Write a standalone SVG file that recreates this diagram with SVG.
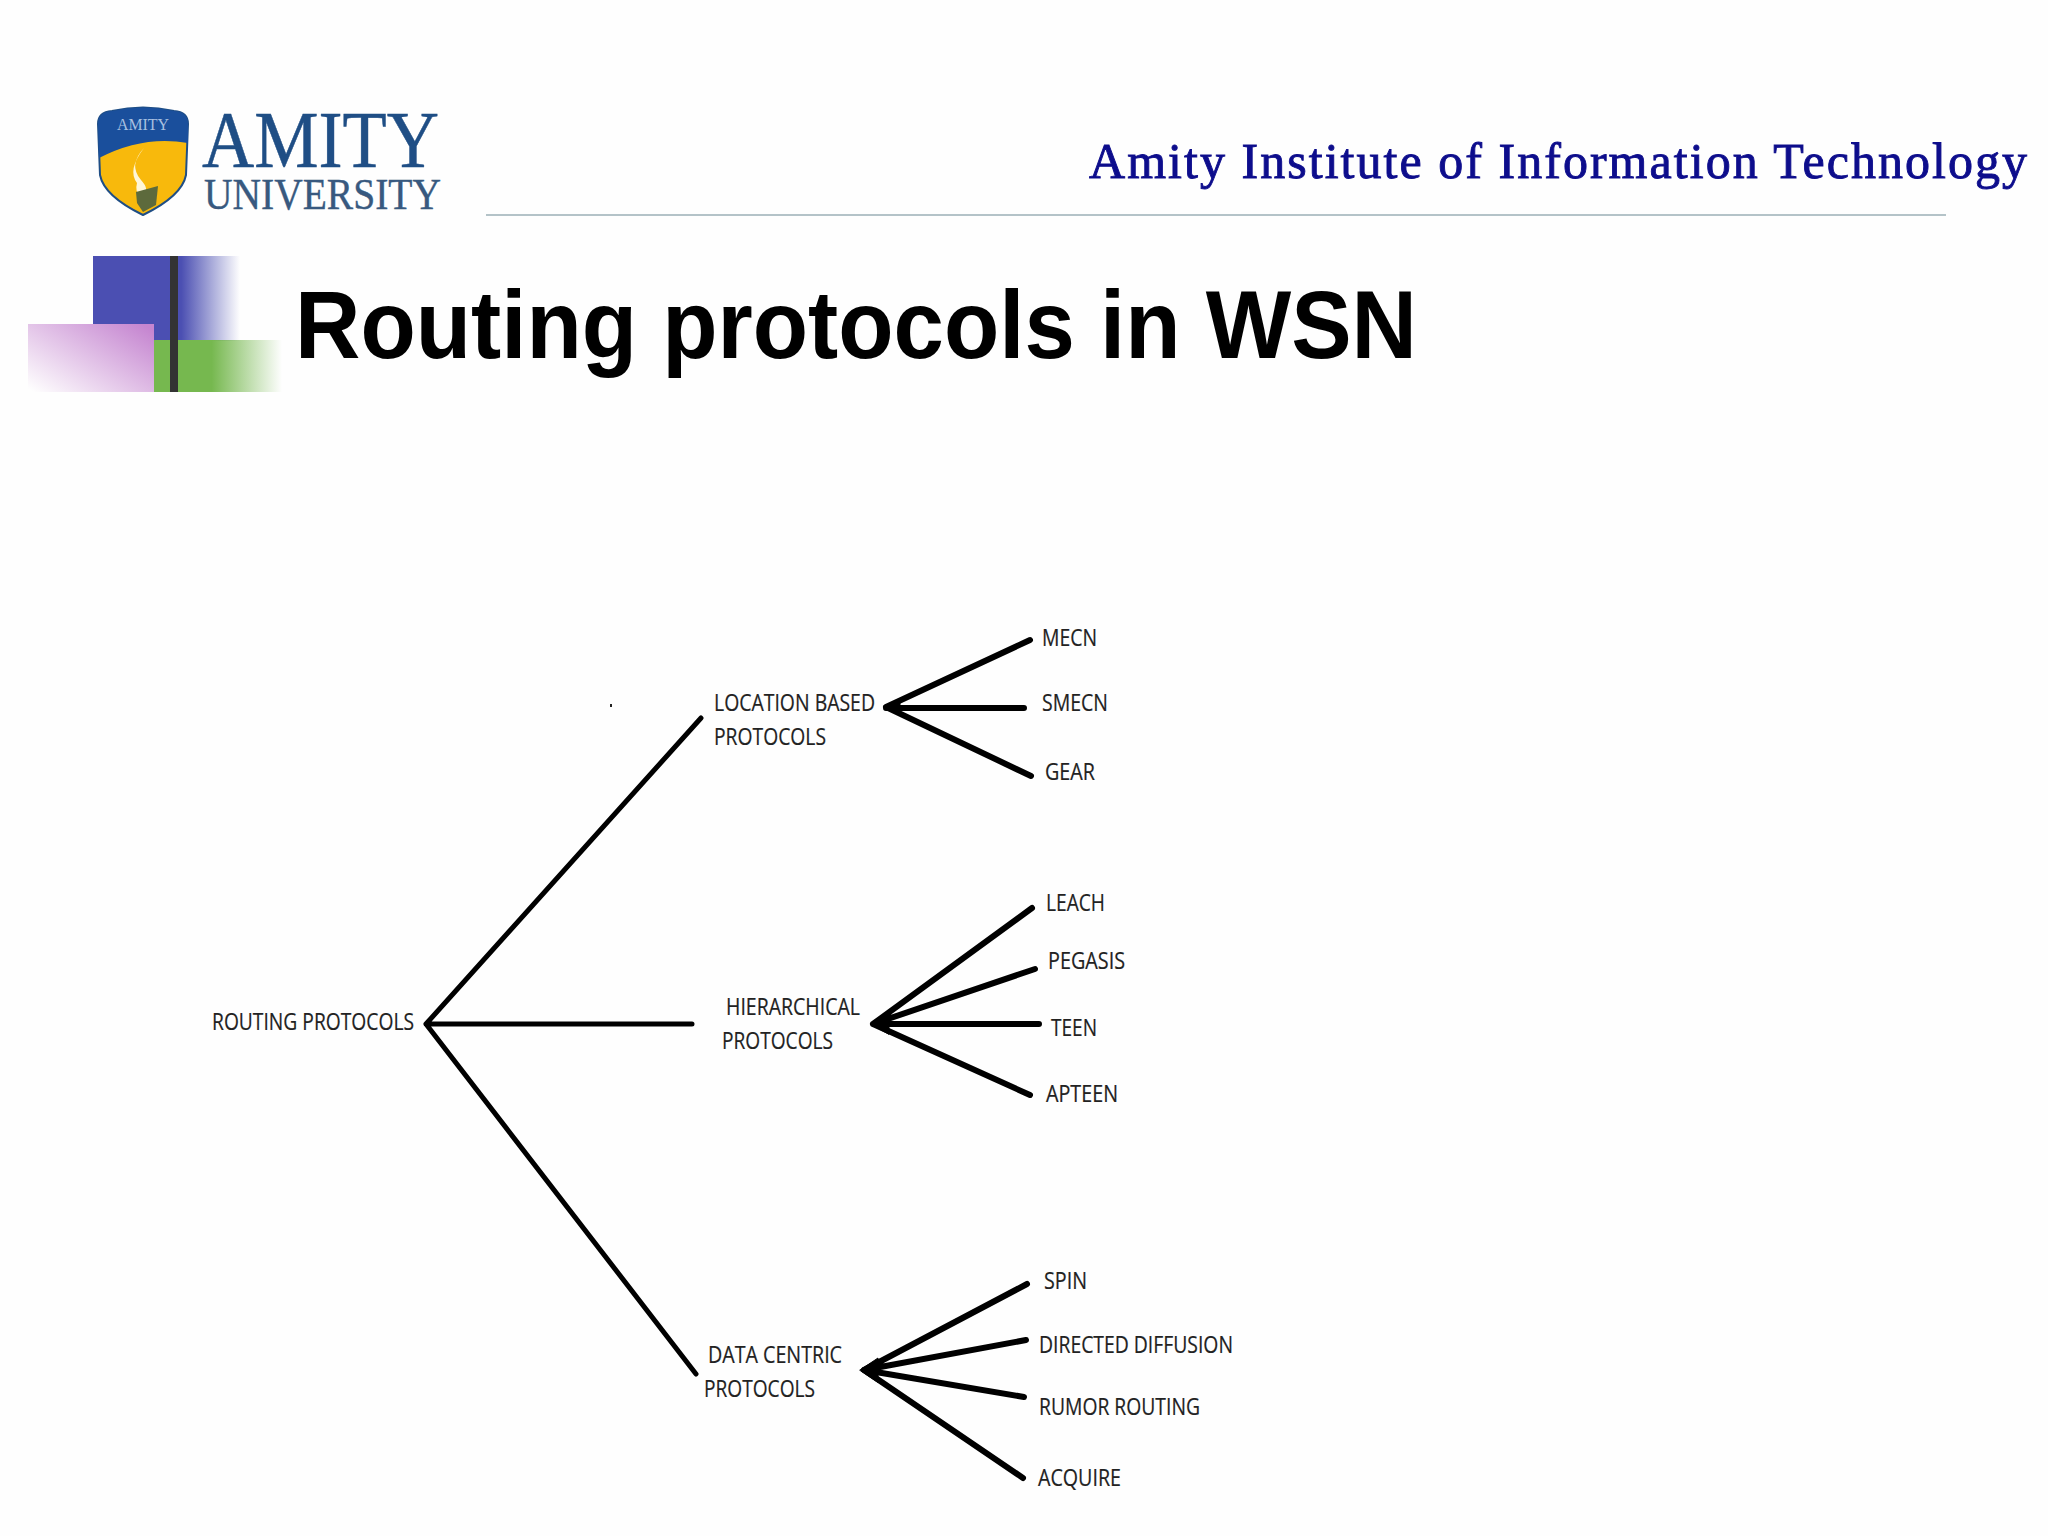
<svg xmlns="http://www.w3.org/2000/svg" width="2048" height="1536" viewBox="0 0 2048 1536">
<defs>
<style>
.l{font-family:"Open Sans","Noto Sans","Liberation Sans",sans-serif;font-size:24px;fill:#222;stroke:#222;stroke-width:0.2}
.c{stroke:#000;fill:none;stroke-linecap:round}
.r{stroke-width:5}
.h{stroke-width:6}
</style>
<linearGradient id="fb" x1="0" x2="1" y1="0" y2="0"><stop offset="0" stop-color="#4b4fb2"/><stop offset="0.6" stop-color="#4b4fb2"/><stop offset="1" stop-color="#4b4fb2" stop-opacity="0"/></linearGradient>
<linearGradient id="fg" x1="0" x2="1" y1="0" y2="0"><stop offset="0" stop-color="#76b84f"/><stop offset="0.45" stop-color="#76b84f"/><stop offset="1" stop-color="#76b84f" stop-opacity="0"/></linearGradient>
<linearGradient id="fp" x1="1" x2="0" y1="0.1" y2="0.95"><stop offset="0" stop-color="#c585d0"/><stop offset="1" stop-color="#fefefe"/></linearGradient>
</defs>
<rect width="2048" height="1536" fill="#fefefe"/>
<g id="logo">
<path d="M98 124Q98 112 112 111Q143 104 174 111Q188 112 188 124L186 175Q182 196 143 215Q104 196 100 175Z" fill="#f8b90c" stroke="#1f4e85" stroke-width="2"/>
<path d="M98 124Q98 112 112 111Q143 104 174 111Q188 112 188 124L188 143Q143 135 99 158Z" fill="#1a4f9c"/>
<path d="M144 148Q128 165 141 180Q150 190 143 193Q134 195 137 183Q127 170 144 148Z" fill="#fff6d8"/>
<path d="M136 192L158 186L156 205L143 212L137 203Z" fill="#5d6a3c"/>
<text x="117" y="130" font-family="Liberation Serif,serif" font-size="17" fill="#a8c0e0" textLength="52" lengthAdjust="spacingAndGlyphs">AMITY</text>
<text x="202" y="167" font-family="Liberation Serif,serif" font-size="80" fill="#1f4e85" stroke="#1f4e85" stroke-width="0.5" textLength="237" lengthAdjust="spacingAndGlyphs">AMITY</text>
<text x="204" y="209" font-family="Liberation Serif,serif" font-size="44" fill="#38597f" stroke="#38597f" stroke-width="0.4" textLength="237" lengthAdjust="spacingAndGlyphs">UNIVERSITY</text>
</g>
<text id="institute" x="1089" y="178" font-family="Liberation Serif,serif" font-size="50" fill="#0d0d8c" stroke="#0d0d8c" stroke-width="0.9" textLength="938" lengthAdjust="spacing">Amity Institute of Information Technology</text>
<rect id="rule" x="486" y="214" width="1460" height="2" fill="#b4c3c8"/>
<g id="bullet">
<rect x="93" y="256" width="147" height="85" fill="url(#fb)"/>
<rect x="154" y="340" width="128" height="52" fill="url(#fg)"/>
<rect x="28" y="324" width="126" height="68" fill="url(#fp)"/>
<rect x="170" y="256" width="8" height="136" fill="#333"/>
</g>
<text id="title" x="295" y="358" font-family="Liberation Sans,Arial,sans-serif" font-weight="bold" font-size="96" fill="#000" textLength="1122" lengthAdjust="spacingAndGlyphs">Routing protocols in WSN</text>
<g id="connectors" class="c">
<path class="r" d="M426 1024L701 718M426 1024H692M426 1024L696 1374"/>
<path class="h" d="M886 707L1030 640M886 708H1024M886 707L1031 776"/>
<path class="h" d="M873 1024L1032 908M873 1024L1035 969M873 1024H1039M873 1024L1030 1095"/>
<path class="h" d="M864 1370L1027 1284M864 1370L1026 1340M864 1370L1024 1397M864 1370L1023 1478"/>
<path stroke="#000" fill="#000" stroke-width="1" d="M884 707L900 699L900 715ZM871 1024L889 1014L889 1034ZM860 1370L878 1358L878 1382Z"/>
</g>
<rect id="speck" x="610" y="704" width="2" height="3" fill="#222"/>
<g id="n-root"><text class="l" x="212" y="1030" textLength="202" lengthAdjust="spacingAndGlyphs">ROUTING PROTOCOLS</text></g>
<g id="n-location"><text class="l" x="714" y="711" textLength="161" lengthAdjust="spacingAndGlyphs">LOCATION BASED</text><text class="l" x="714" y="745" textLength="112" lengthAdjust="spacingAndGlyphs">PROTOCOLS</text></g>
<g id="n-hier"><text class="l" x="726" y="1015" textLength="134" lengthAdjust="spacingAndGlyphs">HIERARCHICAL</text><text class="l" x="722" y="1049" textLength="111" lengthAdjust="spacingAndGlyphs">PROTOCOLS</text></g>
<g id="n-data"><text class="l" x="708" y="1363" textLength="134" lengthAdjust="spacingAndGlyphs">DATA CENTRIC</text><text class="l" x="704" y="1397" textLength="111" lengthAdjust="spacingAndGlyphs">PROTOCOLS</text></g>
<g id="n-mecn"><text class="l" x="1042" y="646" textLength="55" lengthAdjust="spacingAndGlyphs">MECN</text></g>
<g id="n-smecn"><text class="l" x="1042" y="711" textLength="66" lengthAdjust="spacingAndGlyphs">SMECN</text></g>
<g id="n-gear"><text class="l" x="1045" y="780" textLength="50" lengthAdjust="spacingAndGlyphs">GEAR</text></g>
<g id="n-leach"><text class="l" x="1046" y="911" textLength="59" lengthAdjust="spacingAndGlyphs">LEACH</text></g>
<g id="n-pegasis"><text class="l" x="1048" y="969" textLength="77" lengthAdjust="spacingAndGlyphs">PEGASIS</text></g>
<g id="n-teen"><text class="l" x="1051" y="1036" textLength="46" lengthAdjust="spacingAndGlyphs">TEEN</text></g>
<g id="n-apteen"><text class="l" x="1046" y="1102" textLength="72" lengthAdjust="spacingAndGlyphs">APTEEN</text></g>
<g id="n-spin"><text class="l" x="1044" y="1289" textLength="43" lengthAdjust="spacingAndGlyphs">SPIN</text></g>
<g id="n-dd"><text class="l" x="1039" y="1353" textLength="194" lengthAdjust="spacingAndGlyphs">DIRECTED DIFFUSION</text></g>
<g id="n-rr"><text class="l" x="1039" y="1415" textLength="161" lengthAdjust="spacingAndGlyphs">RUMOR ROUTING</text></g>
<g id="n-acquire"><text class="l" x="1038" y="1486" textLength="83" lengthAdjust="spacingAndGlyphs">ACQUIRE</text></g>
</svg>
